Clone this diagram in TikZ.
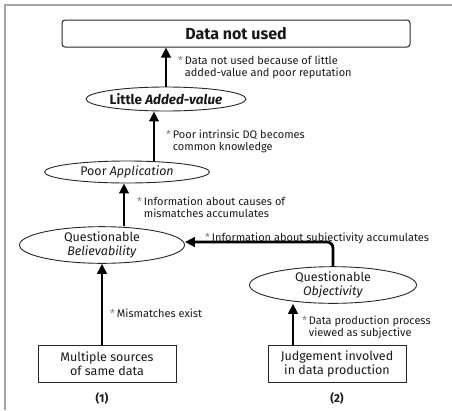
\documentclass[tikz,border=0pt]{standalone}
\usepackage{fontspec}
\setmainfont{Fira Sans}
\usetikzlibrary{arrows.meta,shapes.geometric}
\tikzset{
  treenode/.style = {align=center, inner sep=0pt, text centered, text=black!90},
  arn_box/.style = {treenode, rectangle, draw=black!85, line width=1pt, font=\fontsize{12.5}{14}\selectfont},
  arn_top/.style = {arn_box, rounded corners=3pt, minimum width=348pt, minimum height=27pt, font=\bfseries\fontsize{16}{18}\selectfont},
  arn_src/.style = {arn_box, minimum width=138pt, minimum height=37pt},
  arn_ell/.style = {treenode, ellipse, draw=black!85, line width=0.9pt, font=\fontsize{12.5}{13.5}\selectfont},
  arn_note/.style = {treenode, anchor=west, align=left, font=\fontsize{11}{12.5}\selectfont},
  arn_up/.style = {line width=2.8pt, -{Triangle[length=10pt,width=9.5pt]}},
}
\newcommand{\note}[2]{\begin{tabular}{@{}l@{\,}l@{}}\textcolor{gray}{*}&#1\\&#2\end{tabular}}
\newcommand{\notei}[1]{\textcolor{gray}{*}\,#1}

\begin{document}
\begin{tikzpicture}[x=1pt, y=-1pt]
  \useasboundingbox (0,0) rectangle (452,410);
  % frame
  \draw [gray!70, line width=1.2pt] (452,5) -- (5,5) -- (5,410);

  % nodes
  \node [arn_top] (unused) at (236,33.5) {Data not used};
  \node [arn_ell, minimum width=160pt, minimum height=24pt, font=\bfseries\fontsize{13.5}{15}\selectfont] (little) at (166,99) {Little \textit{Added-value}};
  \node [arn_ell, minimum width=165pt, minimum height=22pt] (poor) at (127,172) {Poor \textit{Application}};
  \node [arn_ell, minimum width=165pt, minimum height=34pt] (believ) at (102,245) {Questionable\\\textit{Believability}};
  \node [arn_ell, minimum width=167pt, minimum height=33pt] (object) at (333,285) {Questionable\\\textit{Objectivity}};
  \node [arn_src] (multi) at (107,364) {Multiple sources\\of same data};
  \node [arn_src] (judge) at (337,364) {Judgement involved\\in data production};
  \node [treenode, font=\bfseries\fontsize{11.5}{13}\selectfont] (one) at (102,398) {(1)};
  \node [treenode, font=\bfseries\fontsize{11.5}{13}\selectfont] (two) at (337,398) {(2)};

  % connectors
  \draw [arn_up] (little.north) -- (little.north |- unused.south);
  \draw [arn_up] ([xshift=27pt]poor.north) -- ([xshift=-12pt]little.south);
  \draw [arn_up] ([xshift=22pt]believ.north) -- ([xshift=-3pt]poor.south);
  \draw [arn_up, rounded corners=6pt] (object.north) |- ([yshift=3pt]believ.east);
  \draw [arn_up] (multi.north -| believ.south) -- (believ.south);
  \draw [arn_up] ([xshift=-44pt]judge.north) -- ([xshift=-40pt]object.south);

  % notes
  \node [arn_note] (n1) at (178,68) {\note{Data not used because of little}{added-value and poor reputation}};
  \node [arn_note] (n2) at (166,142) {\note{Poor intrinsic DQ becomes}{common knowledge}};
  \node [arn_note] (n3) at (137,209) {\note{Information about causes of}{mismatches accumulates}};
  \node [arn_note] (n4) at (205,238) {\notei{Information about subjectivity accumulates}};
  \node [arn_note] (n5) at (110,313) {\notei{Mismatches exist}};
  \node [arn_note] (n6) at (302,328) {\note{Data production process}{viewed as subjective}};
\end{tikzpicture}
\end{document}
